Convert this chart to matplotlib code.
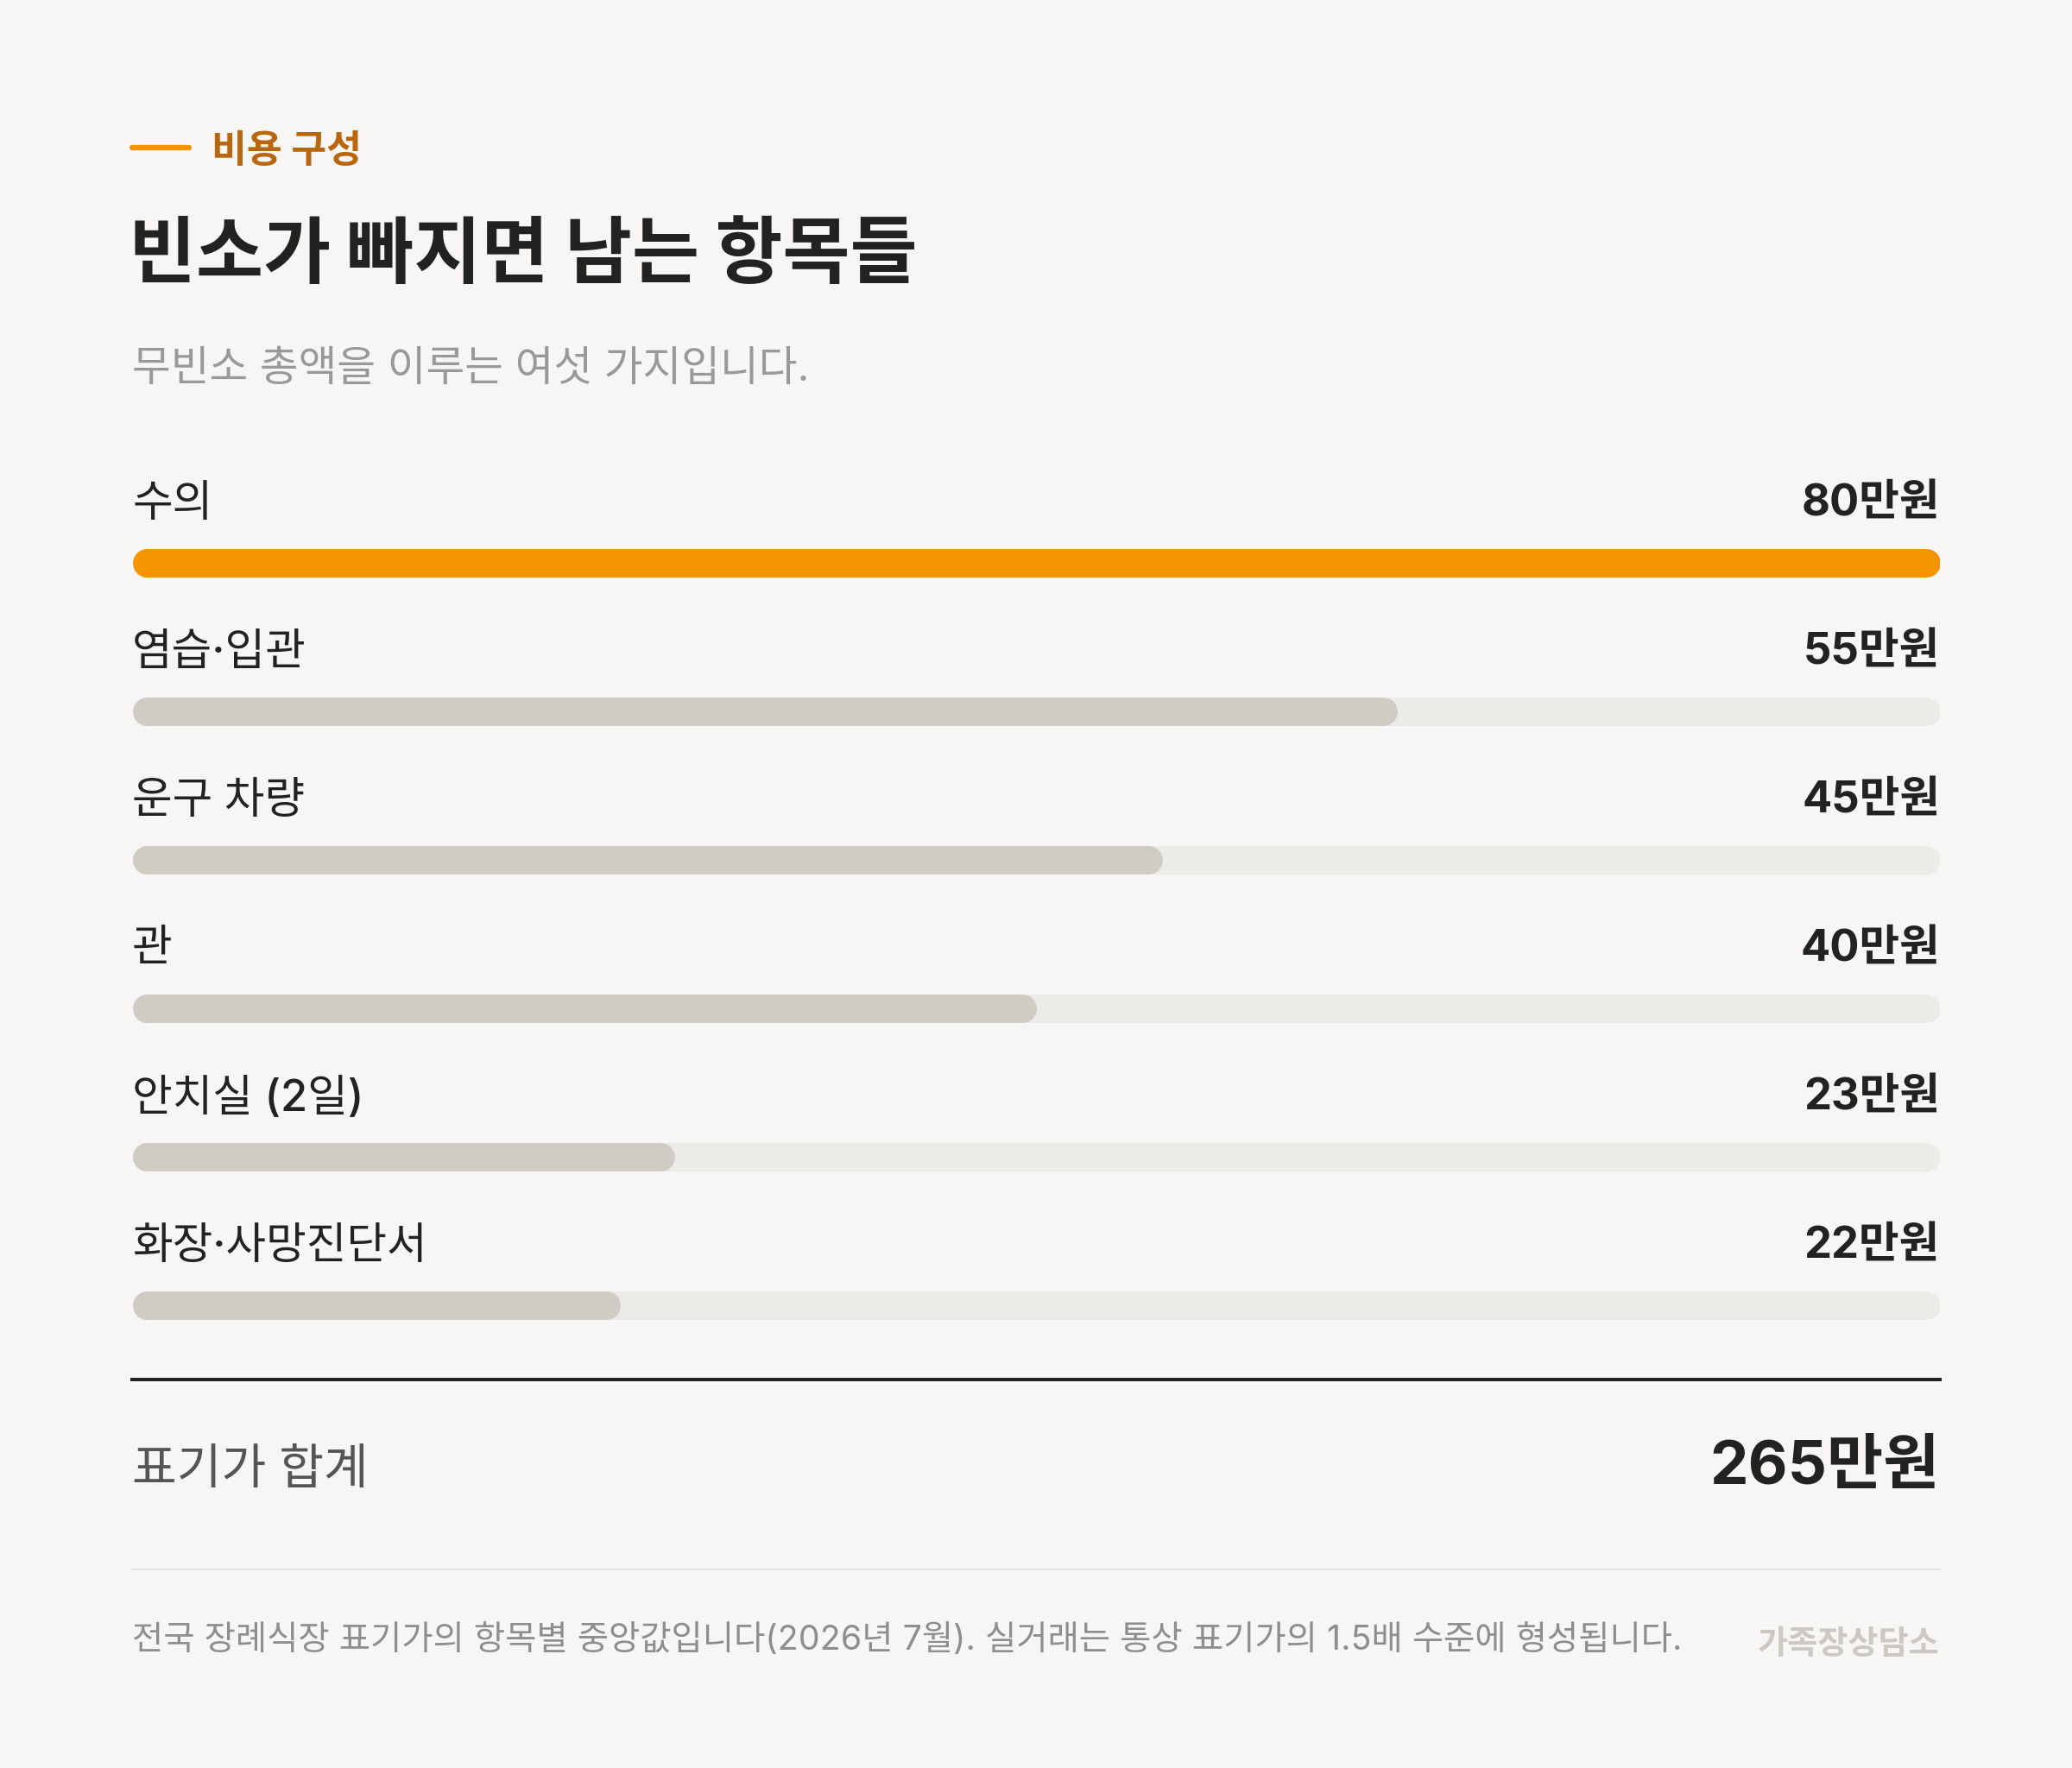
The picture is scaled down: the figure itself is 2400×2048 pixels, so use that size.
import matplotlib
matplotlib.use("Agg")
from matplotlib import pyplot as plt

# Inter for latin/digits, Noto CJK for hangul (roughly what Pretendard looks like)
plt.rcParams['font.family'] = ['Inter', 'Noto Sans CJK KR', 'DejaVu Sans']

# --- data ---
categories = ["수의", "염습·입관", "운구 차량", "관", "안치실 (2일)", "화장·사망진단서"]
values = [80, 55, 45, 40, 23, 22]            # 만원, as printed
bar_share = [100, 70, 57, 50, 30, 27]        # bar length in % of track
total_label = "표기가 합계"
total_value = "265만원"

eyebrow = "비용 구성"
title = "빈소가 빠지면 남는 항목들"
subtitle = "무빈소 총액을 이루는 여섯 가지입니다."
footnote = "전국 장례식장 표기가의 항목별 중앙값입니다(2026년 7월). 실거래는 통상 표기가의 1.5배 수준에 형성됩니다."
brand = "가족장상담소"

# --- colours ---
BG = "#f7f6f4"
ORANGE = "#f59300"
ORANGE_TXT = "#b9670e"
BAR_GREY = "#cfccc4"
TRACK = "#ecebe7"
INK = "#222222"

W, H = 2400, 2048
DPI = 100
fig = plt.figure(figsize=(W / DPI, H / DPI), dpi=DPI, facecolor=BG)

def fx(px):
    return px / W

def fy(py):
    return 1 - py / H

LEFT, RIGHT = 153, 2247

# header
fig.add_artist(plt.Line2D([fx(LEFT), fx(219)], [fy(171), fy(171)], color=ORANGE, lw=4.5,
                          solid_capstyle='round'))
fig.text(fx(245), fy(176), eyebrow, fontsize=32, fontweight='bold', color=ORANGE_TXT, va='center')
fig.text(fx(LEFT - 4), fy(298), title, fontsize=61, fontweight='heavy', color=INK, va='center')
fig.text(fx(LEFT), fy(428), subtitle, fontsize=35, color="#999999", va='center')

# bars: one row per category, 172 px apart, first bar centre at y=652
row_h = 172
top = 652 - row_h / 2
n = len(categories)
ax = fig.add_axes([fx(LEFT), fy(top + n * row_h), (RIGHT - LEFT) / W, n * row_h / H])
ax.set_xlim(0, 100)
ax.set_ylim(n - 0.5, -0.5)
ax.axis('off')

bar_px = 33
lw = bar_px * 72 / DPI
cap = (bar_px / 2) / (RIGHT - LEFT) * 100   # cap radius in data units

for i, (cat, val, share) in enumerate(zip(categories, values, bar_share)):
    ax.plot([cap, 100 - cap], [i, i], color=TRACK, lw=lw, solid_capstyle='round')
    ax.plot([cap, share - cap], [i, i], color=ORANGE if i == 0 else BAR_GREY, lw=lw,
            solid_capstyle='round')
    ly = i - 68 / row_h
    ax.text(0, ly, cat, fontsize=36.5, fontweight='medium', color=INK, va='center', ha='left',
            clip_on=False)
    ax.text(100, ly, f"{val}만원", fontsize=36.5, fontweight='bold', color=INK, va='center',
            ha='right', clip_on=False)

# total
fig.add_artist(plt.Line2D([fx(LEFT), fx(RIGHT)], [fy(1598), fy(1598)], color=INK, lw=2.9))
fig.text(fx(LEFT), fy(1704), total_label, fontsize=40.5, fontweight='medium', color="#555555",
         va='center')
fig.text(fx(RIGHT), fy(1701), total_value, fontsize=51, fontweight='bold', color=INK,
         va='center', ha='right')

# footer
fig.add_artist(plt.Line2D([fx(LEFT), fx(RIGHT)], [fy(1818), fy(1818)], color="#e3e2df", lw=1.5))
fig.text(fx(LEFT), fy(1900), footnote, fontsize=28.4, color="#8e8e8e", va='center')
fig.text(fx(RIGHT), fy(1906), brand, fontsize=27.5, fontweight='bold', color="#cbc9c1",
         va='center', ha='right')

fig.savefig("out.png", dpi=DPI, facecolor=BG)
